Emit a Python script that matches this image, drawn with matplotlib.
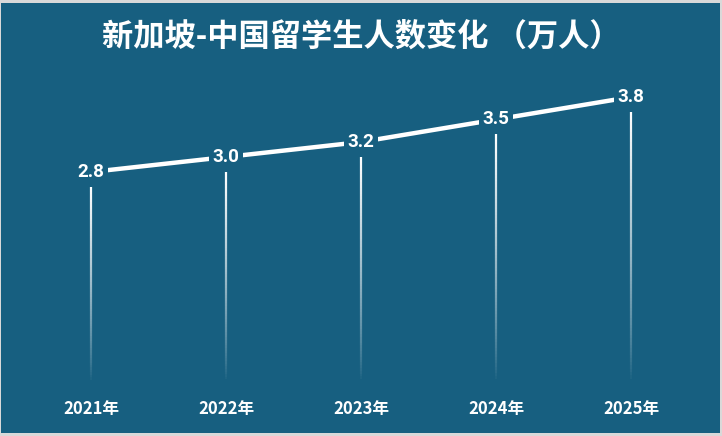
import numpy as np
import matplotlib.pyplot as plt
from matplotlib.collections import LineCollection
from matplotlib.patches import Rectangle

plt.rcParams['font.family'] = ['Noto Sans CJK SC', 'DejaVu Sans']

years = ["2021年", "2022年", "2023年", "2024年", "2025年"]
students = [2.8, 3.0, 3.2, 3.5, 3.8]
title = "新加坡-中国留学生人数变化 （万人）"

bg = "#175f80"


def drop_line(ax, x, top, n=80):
    ys = np.linspace(0, top, n + 1)
    segs = [[(x, ys[i]), (x, ys[i + 1])] for i in range(n)]
    alphas = np.linspace(0.0, 1.0, n) ** 0.8
    colors = [(1, 1, 1, a) for a in alphas]
    ax.add_collection(LineCollection(segs, colors=colors, linewidths=1.6, zorder=1))


fig = plt.figure(figsize=(7.22, 4.36), dpi=100)
fig.patch.set_facecolor("#d9d9d9")
fig.patches.append(Rectangle((1 / 722, 3 / 436), 719 / 722, 430 / 436,
                             transform=fig.transFigure, facecolor=bg,
                             edgecolor="none", zorder=-5))

ax = fig.add_axes([0, 0, 1, 1])
ax.set_facecolor("none")
ax.set_zorder(2)
xs = np.arange(len(years))

for x, v in zip(xs, students):
    drop_line(ax, x, v - 0.2)

ax.plot(xs, students, color="white", lw=3.2, solid_capstyle="butt", zorder=2)

for x, v in zip(xs, students):
    ax.text(x, v, f"{v:.1f}", color="white", fontsize=13.5, fontweight="bold",
            family=["Roboto", "DejaVu Sans"],
            ha="center", va="center", zorder=3,
            bbox=dict(boxstyle="square,pad=0.2", facecolor=bg, edgecolor="none"))

for x, lab in zip(xs, years):
    ax.text(x, -0.36, lab, color="white", fontsize=12, fontweight="bold",
            ha="center", va="center")

fig.text(0.5, 1 - 37 / 436, title, color="white", fontsize=22.5,
         fontweight="bold", ha="center", va="center", zorder=5)

ax.set_xlim(-91 / 135, 4 + 91 / 135)
ax.set_ylim(-54 / 75, 382 / 75)
ax.axis("off")

fig.savefig("out.png", dpi=100, facecolor=fig.get_facecolor())
